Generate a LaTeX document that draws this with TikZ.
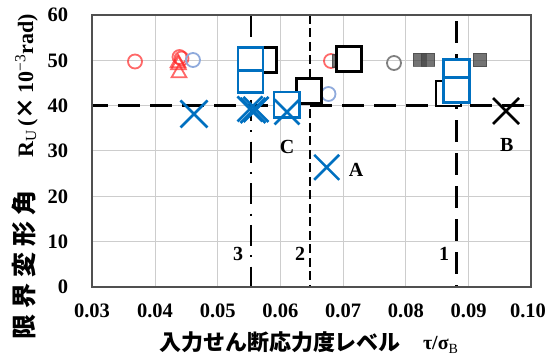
\documentclass[tikz,border=0pt]{standalone}
\usepackage{fontspec}
\setmainfont{Liberation Serif}
\newfontfamily\jp{Noto Sans CJK JP}
\usetikzlibrary{shapes.misc,shapes.geometric}
\definecolor{xblue}{RGB}{0,112,192}
\definecolor{lblue}{RGB}{143,170,220}
\definecolor{gridc}{RGB}{205,205,205}
\definecolor{framec}{RGB}{80,80,80}
\definecolor{mgray}{RGB}{70,70,70}
\definecolor{ogray}{RGB}{128,128,128}
\definecolor{mred}{RGB}{255,40,40}
\begin{document}
\begin{tikzpicture}[x=1pt,y=-1pt,
  mk/.style={inner sep=0pt,outer sep=0pt},
  bluebox/.style={mk,rectangle,draw=xblue,line width=2.6pt,fill=white},
  blackbox/.style={mk,rectangle,draw=black,line width=2.8pt,fill=white,minimum size=25pt},
  bluex/.style={mk,cross out,draw=xblue,line width=2.6pt,minimum size=25pt},
  blackx/.style={mk,cross out,draw=black,line width=2.6pt,minimum size=25pt},
  redc/.style={mk,circle,draw=mred,draw opacity=0.7,line width=1.8pt,minimum size=14pt},
  redt/.style={mk,regular polygon,regular polygon sides=3,draw=mred,draw opacity=0.7,line width=1.8pt,minimum size=17pt},
  bluec/.style={mk,circle,draw=lblue,line width=1.8pt,minimum size=14pt},
  grayc/.style={mk,circle,draw=ogray,line width=1.8pt,minimum size=14pt},
  grays/.style={mk,rectangle,draw=mgray,fill=mgray,opacity=0.75,line width=0.8pt,minimum size=13.5pt},
  tick/.style={mk,font=\bfseries\fontsize{20.5}{22}\selectfont},
  lab/.style={mk,font=\bfseries\fontsize{20}{22}\selectfont},
  refline/.style={line width=2.6pt,black}
]
\useasboundingbox (0,0) rectangle (555,358);
% grid
\foreach \gx in {155,217.7,280.4,343.1,405.9,468.6} \draw[gridc,line width=1pt] (\gx,15) -- (\gx,287);
\foreach \gy in {60.3,105.7,151,196.3,241.7} \draw[gridc,line width=1pt] (92,\gy) -- (531,\gy);
% reference lines
\coordinate (h1) at (92,105.7); \coordinate (h2) at (531,105.7);
\draw[refline,dash pattern=on 22pt off 10pt,dash phase=6pt] (h1) -- (h2);
\coordinate (l3a) at (251,16.5); \coordinate (l3b) at (251,287);
\draw[refline,dash pattern=on 21pt off 9.3pt on 2pt off 9.4pt] (l3a) -- (l3b);
\coordinate (l2a) at (310,15); \coordinate (l2b) at (310,287);
\draw[refline,dash pattern=on 9pt off 4.5pt] (l2a) -- (l2b);
\coordinate (l1a) at (456.7,21.5); \coordinate (l1b) at (456.7,287);
\draw[refline,dash pattern=on 22pt off 11pt] (l1a) -- (l1b);
% frame
\draw[framec,line width=1.4pt] (92,15) rectangle (531,287);
% red circles and triangles
\node[redc] (rc1) at (135,61.5) {};
\node[redc] (rc2) at (179.5,57) {};
\node[redc] (rc3) at (181.5,58.5) {};
\node[redt] (rt1) at (178,63) {};
\node[redt] (rt2) at (178.5,65) {};
\node[redt] (rt3) at (179,73) {};
\node[bluec] (bc1) at (193,60) {};
\node[redc] (rc4) at (331,61) {};
\node[grays] (gs0) at (339,61) {};
\node[bluec] (bc2) at (328.5,94) {};
\node[grayc] (gc1) at (394,63) {};
\node[grays] (gs1) at (419.7,59.7) {};
\node[grays] (gs2) at (428,59.7) {};
\node[grays] (gs3) at (480,60) {};
% black squares
\node[blackbox] (k1) at (264,60) {};
\node[blackbox] (k2) at (309,91) {};
\node[blackbox] (k3) at (349,59) {};
\node[blackbox] (k4) at (448.5,93.5) {};
% blue rectangles
\node[bluebox,minimum width=25pt,minimum height=23pt] (b1) at (250.5,59) {};
\node[bluebox,minimum width=25pt,minimum height=21.5pt] (b2) at (250.5,81.5) {};
\node[bluebox,minimum width=25.5pt,minimum height=25.5pt] (b3) at (286.7,104.7) {};
\node[bluebox,minimum width=26pt,minimum height=18.2pt] (b4) at (456.4,68.4) {};
\node[bluebox,minimum width=26pt,minimum height=24.8pt] (b5) at (456.4,89.9) {};
% blue crosses
\node[bluex,minimum size=27pt] (x1) at (194,114) {};
\node[bluex] (x2) at (250,109) {};
\node[bluex] (x3) at (253,110.5) {};
\node[bluex] (x4) at (256,109.5) {};
\node[bluex] (x5) at (287,112) {};
\node[bluex] (x6) at (326.7,167.3) {};
\node[blackx,minimum size=26pt] (x7) at (506,111) {};
% labels
\node[lab] (lC) at (287,147) {C};
\node[lab] (lA) at (356,170) {A};
\node[lab] (lB) at (506.7,145) {B};
\node[lab] (n3) at (238,254) {3};
\node[lab] (n2) at (300,254) {2};
\node[lab] (n1) at (444,254) {1};
% x ticks
\foreach \v/\gx in {0.03/92,0.04/155,0.05/217.7,0.06/280.4,0.07/343.1,0.08/405.9,0.09/468.6,0.10/528}
  \node[tick,anchor=base] (xt\v) at (\gx,318) {\v};
% y ticks
\foreach \v/\gy in {0/287,10/241.7,20/196.3,30/151,40/105.7,50/60.3,60/15}
  \node[tick,anchor=base east] (yt\v) at (68,\gy+7) {\v};
% axis titles
\node[mk,anchor=base,font=\jp\bfseries\fontsize{22}{24}\selectfont] (xtitle) at (280,351) {入力せん断応力度レベル};
\node[mk,anchor=base west,font=\bfseries\fontsize{20}{24}\selectfont] (xsym) at (423,350) {τ/σ\textsubscript{\normalfont B}};
\node[mk,anchor=base,rotate=90,font=\jp\bfseries\fontsize{25}{27}\selectfont] (ytitle) at (33,265) {限\hspace{6pt}界\hspace{6pt}変\hspace{6pt}形\hspace{6pt}角};
\node[mk,anchor=base,rotate=90,font=\bfseries\fontsize{22}{24}\selectfont] (ysym) at (33,86) {R\textsubscript{\normalfont U}\,({\jp ×}\,10\textsuperscript{\normalfont −3}rad)};
\end{tikzpicture}
\end{document}
